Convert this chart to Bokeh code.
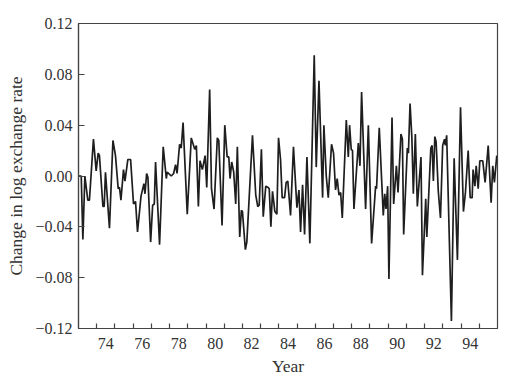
from bokeh.plotting import figure
from bokeh.models import Range1d, FixedTicker
from bokeh.embed import file_html
from bokeh.resources import INLINE

# Vertices (decimal year, change in log exchange rate)
years = [
    1973.00, 1973.15, 1973.24, 1973.35, 1973.51, 1973.60, 1973.82, 1973.97, 1974.08, 1974.15,
    1974.34, 1974.41, 1974.48, 1974.70, 1974.89, 1975.03, 1975.18, 1975.25, 1975.33, 1975.47,
    1975.55, 1975.71, 1975.86, 1976.02, 1976.13, 1976.24, 1976.43, 1976.59, 1976.65, 1976.74,
    1976.81, 1976.96, 1977.07, 1977.16, 1977.23, 1977.45, 1977.65, 1977.82, 1977.87, 1978.09,
    1978.22, 1978.33, 1978.41, 1978.55, 1978.64, 1978.74, 1978.97, 1979.19, 1979.38, 1979.47,
    1979.58, 1979.67, 1979.80, 1979.95, 1980.04, 1980.20, 1980.30, 1980.44, 1980.62, 1980.70,
    1980.88, 1981.03, 1981.16, 1981.25, 1981.32, 1981.41, 1981.52, 1981.63, 1981.72, 1981.85,
    1981.94, 1982.00, 1982.16, 1982.24, 1982.55, 1982.73, 1982.84, 1982.92, 1983.04, 1983.14,
    1983.28, 1983.41, 1983.47, 1983.56, 1983.65, 1983.78, 1983.89, 1983.98, 1984.09, 1984.18,
    1984.31, 1984.40, 1984.49, 1984.64, 1984.80, 1984.91, 1984.99, 1985.10, 1985.19, 1985.30,
    1985.41, 1985.54, 1985.70, 1985.94, 1986.05, 1986.20, 1986.40, 1986.47, 1986.60, 1986.71,
    1986.89, 1987.00, 1987.11, 1987.20, 1987.30, 1987.39, 1987.48, 1987.70, 1987.81, 1987.88,
    1987.97, 1988.04, 1988.12, 1988.36, 1988.45, 1988.54, 1988.76, 1988.91, 1989.09, 1989.31,
    1989.36, 1989.51, 1989.73, 1989.81, 1989.88, 1989.97, 1990.04, 1990.21, 1990.30, 1990.45,
    1990.54, 1990.70, 1990.78, 1990.85, 1991.05, 1991.11, 1991.20, 1991.30, 1991.38, 1991.49,
    1991.60, 1991.80, 1991.88, 1992.06, 1992.12, 1992.34, 1992.41, 1992.48, 1992.56, 1992.63,
    1992.75, 1992.87, 1992.99, 1993.09, 1993.14, 1993.21, 1993.47, 1993.62, 1993.80, 1993.97,
    1994.13, 1994.24, 1994.39, 1994.50, 1994.61, 1994.66, 1994.76, 1994.83, 1994.94, 1995.03,
    1995.19, 1995.32, 1995.49, 1995.65, 1995.74, 1995.83, 1995.96,
]
changes = [
    0.000, 0.000, -0.050, 0.000, -0.019, -0.019, 0.029, 0.004, 0.018, 0.016,
    -0.024, -0.024, 0.003, -0.041, 0.028, 0.016, -0.010, -0.009, -0.019, 0.005,
    -0.004, 0.013, 0.013, -0.022, -0.020, -0.044, -0.016, -0.006, -0.014, 0.002,
    -0.001, -0.052, -0.023, -0.022, 0.011, -0.054, 0.023, -0.002, 0.003, 0.000,
    0.002, 0.009, 0.002, 0.025, 0.022, 0.042, -0.030, 0.030, 0.021, 0.024,
    -0.024, 0.012, 0.005, 0.016, -0.009, 0.068, -0.010, -0.026, 0.030, 0.028,
    -0.039, 0.040, 0.015, 0.015, -0.002, 0.011, 0.003, -0.022, 0.023, -0.048,
    -0.027, -0.028, -0.058, -0.052, 0.032, -0.015, -0.024, -0.023, 0.021, -0.032,
    -0.008, -0.009, -0.010, -0.040, -0.012, -0.028, -0.030, 0.030, 0.013, -0.017,
    -0.017, -0.005, -0.004, -0.031, 0.023, -0.005, -0.025, -0.011, -0.044, -0.007,
    -0.046, 0.015, -0.053, 0.095, 0.007, 0.075, -0.017, 0.040, 0.000, -0.017,
    0.025, 0.018, -0.011, -0.002, -0.015, -0.013, -0.033, 0.044, 0.015, 0.040,
    0.021, 0.020, -0.026, 0.026, 0.008, 0.066, -0.026, 0.040, -0.053, -0.008,
    -0.010, 0.038, -0.031, -0.014, -0.026, -0.008, -0.081, 0.046, -0.022, 0.008,
    -0.013, 0.033, 0.029, -0.046, 0.022, 0.018, 0.057, 0.030, -0.014, 0.033,
    -0.024, 0.015, -0.078, -0.018, -0.048, 0.022, 0.024, -0.004, 0.031, 0.027,
    -0.012, -0.033, 0.024, 0.029, 0.024, 0.032, -0.114, 0.014, -0.066, 0.054,
    -0.028, -0.013, 0.020, -0.017, -0.017, 0.005, -0.008, 0.008, -0.010, 0.012,
    0.012, -0.005, 0.024, -0.021, 0.008, -0.005, 0.016,
]

x_label_pos = [1974.5, 1976.5, 1978.5, 1980.5, 1982.5, 1984.5, 1986.5, 1988.5, 1990.5, 1992.5, 1994.5]
x_tick_labels = ["74", "76", "78", "80", "82", "84", "86", "88", "90", "92", "94"]
x_year_ticks = list(range(1974, 1996))
y_ticks = [-0.12, -0.08, -0.04, 0.0, 0.04, 0.08, 0.12]
y_tick_labels = ["\u22120.12", "\u22120.08", "\u22120.04", "0.00", "0.04", "0.08", "0.12"]

FONT = "Liberation Serif"
TXT = "#333333"
AX = "#444444"

p = figure(width=502, height=378, output_backend="svg", toolbar_location=None,
           x_range=Range1d(1973, 1996), y_range=Range1d(-0.12, 0.12),
           min_border_left=78, min_border_right=5, min_border_top=23, min_border_bottom=46)
p.background_fill_color = "white"
p.border_fill_color = "white"
p.grid.visible = False
p.outline_line_color = AX
p.outline_line_width = 1.2

p.line(years, changes, line_color="#1e1e1e", line_width=1.7)

xa = p.xaxis[0]
xa.ticker = FixedTicker(ticks=x_label_pos, minor_ticks=x_year_ticks)
xa.major_label_overrides = dict(zip(x_label_pos, x_tick_labels))
xa.major_tick_line_color = None
xa.minor_tick_in = 5
xa.minor_tick_out = 0
xa.minor_tick_line_color = AX
xa.minor_tick_line_width = 1.2
xa.axis_label = "Year"
xa.major_label_standoff = 3
xa.axis_label_standoff = 4

ya = p.yaxis[0]
ya.ticker = FixedTicker(ticks=y_ticks)
ya.major_label_overrides = dict(zip(y_ticks, y_tick_labels))
ya.major_tick_in = 6
ya.major_tick_out = 0
ya.major_tick_line_color = AX
ya.major_tick_line_width = 1.2
ya.minor_tick_line_color = None
ya.axis_label = "Change in log exchange rate"
ya.major_label_standoff = 6
ya.axis_label_standoff = 6

for ax in (xa, ya):
    ax.axis_line_color = AX
    ax.axis_line_width = 1.2
    ax.major_label_text_font = FONT
    ax.major_label_text_font_size = "16px"
    ax.major_label_text_color = TXT
    ax.axis_label_text_font = FONT
    ax.axis_label_text_font_size = "17.5px"
    ax.axis_label_text_font_style = "normal"
    ax.axis_label_text_color = TXT

open("out.html", "w").write(file_html(p, INLINE))
